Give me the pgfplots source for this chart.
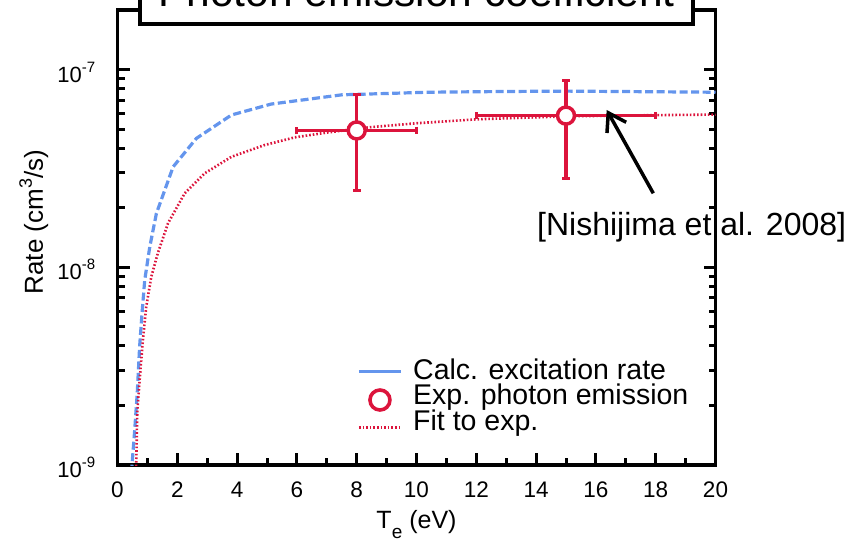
\documentclass[border=0pt]{standalone}
\usepackage{fontspec}
\setmainfont{Liberation Sans}
\usepackage{pgfplots}
\pgfplotsset{compat=1.18}
\usetikzlibrary{arrows.meta}

\definecolor{calcblue}{RGB}{100,149,237}
\definecolor{expred}{RGB}{220,20,60}

% font size in bp, leading equal to size
\newcommand{\fs}[1]{\fontsize{#1bp}{#1bp}\selectfont}
% power-of-ten tick label
\newcommand{\tenpow}[1]{{\fs{22}10\raisebox{10bp}{\fs{15}-#1}}}

\begin{document}
\begin{tikzpicture}
\begin{axis}[
  at={(0bp,0bp)}, anchor=south west,
  scale only axis, width=598bp, height=455bp,
  xmin=0, xmax=20, ymode=log, ymin=1e-9, ymax=2e-7,
  xtick={0,2,...,20}, minor x tick num=1,
  xticklabel={\fs{22.5}\pgfmathprintnumber{\tick}},
  ytick={1e-9,1e-8,1e-7},
  yticklabels={\tenpow{9}, \tenpow{8}, \tenpow{7}},
  xtick pos=bottom, ytick pos=both,
  tick align=inside,
  major tick length=12bp, minor tick length=7bp,
  every tick/.style={black, line width=3bp},
  axis line style={line width=3.8bp},
  /pgf/number format/assume math mode=true,
  xticklabel style={anchor=base, inner sep=0pt, yshift=-32bp},
  yticklabel style={anchor=base east, inner sep=0pt, xshift=-22bp, yshift=-12.5bp},
  xlabel={T\raisebox{-10bp}{\fs{19}e} (eV)},
  ylabel={Rate (cm\raisebox{11bp}{\fs{18}3}/s)},
  xlabel style={font=\fs{25}, at={(axis description cs:0.5,-0.1385)}, anchor=base, inner sep=0pt},
  ylabel style={font=\fs{26}, at={(axis description cs:-0.1246,0.534)}, anchor=base, inner sep=0pt},
  legend style={at={(0.4005,0.234)}, anchor=north west, draw=none, fill=none,
    inner sep=0pt, font=\fs{28.5}, row sep=0pt, column sep=10.5bp,
    nodes={inner sep=0pt, text height=20.5bp, text depth=5bp}},
  legend cell align=left,
]

% calculated excitation rate
\addplot[calcblue, line width=3.2bp, dash pattern=on 8bp off 3.5bp,
  legend image code/.code={
    \path (0bp,0bp) (42bp,0bp);
    \draw[overlay, solid, calcblue, line width=3.2bp] (0bp,0bp) -- (42bp,0bp);}]
  coordinates {
  (0.46,7.0e-10) (0.485,1.0e-9) (0.575,1.5e-9) (0.66,2.3e-9) (0.74,3.97e-9)
  (0.82,5.85e-9) (0.91,8.6e-9) (1.08,1.27e-8) (1.30,1.87e-8) (1.86,3.22e-8)
  (2.64,4.49e-8) (3.81,5.89e-8) (5.14,6.69e-8) (7.5,7.45e-8) (10.4,7.68e-8)
  (12.7,7.74e-8) (15,7.78e-8) (20,7.68e-8)
  };
\addlegendentry{Calc. excitation rate}

% measured photon emission: uncertainty bars
\addplot[expred, forget plot, draw=none, mark=none,
  error bars/.cd, x dir=both, x explicit, y dir=both, y explicit,
  error bar style={line width=3.2bp, expred, solid},
  error mark options={rotate=90, line width=3bp, mark size=3.8bp, expred}]
  coordinates {
  (8,4.92e-8) += (2,2.53e-8) -= (2,2.47e-8)
  (15,5.85e-8) += (3,2.95e-8) -= (3,3.03e-8)
  };

% measured photon emission: open circles on top of the bars
\addplot[expred, line width=3.5bp, only marks, mark=*, mark size=8.5bp,
  every mark/.append style={draw=expred, fill=white, line width=3.5bp, solid},
  legend image code/.code={
    \path (0bp,0bp) (42bp,0bp);
    \draw[overlay, solid, expred, line width=3.6bp, fill=white] (21bp,-3bp) circle[radius=10bp];}]
  coordinates {(8,4.92e-8) (15,5.85e-8)};
\addlegendentry{Exp. photon emission}

% fit to the measurements
\addplot[expred, line width=2.6bp, dash pattern=on 1.6bp off 2bp,
  legend image code/.code={
    \path (0bp,0bp) (42bp,0bp);
    \draw[overlay, expred, line width=2.6bp, dash pattern=on 1.6bp off 2bp] (0bp,-5bp) -- (42bp,-5bp);}]
  coordinates {
  (0.60,8.0e-10) (0.63,1.06e-9) (0.66,1.82e-9) (0.74,2.69e-9) (0.85,4.29e-9)
  (0.96,6.3e-9) (1.13,8.95e-9) (1.35,1.18e-8) (1.69,1.67e-8) (2.25,2.37e-8)
  (2.92,2.99e-8) (3.81,3.62e-8) (4.92,4.15e-8) (5.93,4.54e-8) (7,4.8e-8)
  (8.45,5.11e-8) (10,5.35e-8) (12,5.6e-8) (15,5.8e-8) (18,5.88e-8) (20,5.92e-8)
  };
\addlegendentry{Fit to exp.}
\end{axis}

% reference annotation
\draw[line width=3.5bp, -{Straight Barb[length=17bp, width=22bp]}] (535.8bp,271.7bp) -- (489.2bp,355bp);
\node[anchor=base west, inner sep=0pt, font=\fs{32}] at (419.5bp,229bp) {[Nishijima et al. 2008]};

% title box
\draw[line width=4bp, fill=white] (22.5bp,440.5bp) rectangle (575.5bp,540bp);
\node[anchor=base, inner sep=0pt, font=\fs{42.5}] at (299bp,458bp) {Photon emission coefficient};

\pgfresetboundingbox
\useasboundingbox (-117.5bp,-77bp) rectangle (726.5bp,465bp);
\end{tikzpicture}
\end{document}
